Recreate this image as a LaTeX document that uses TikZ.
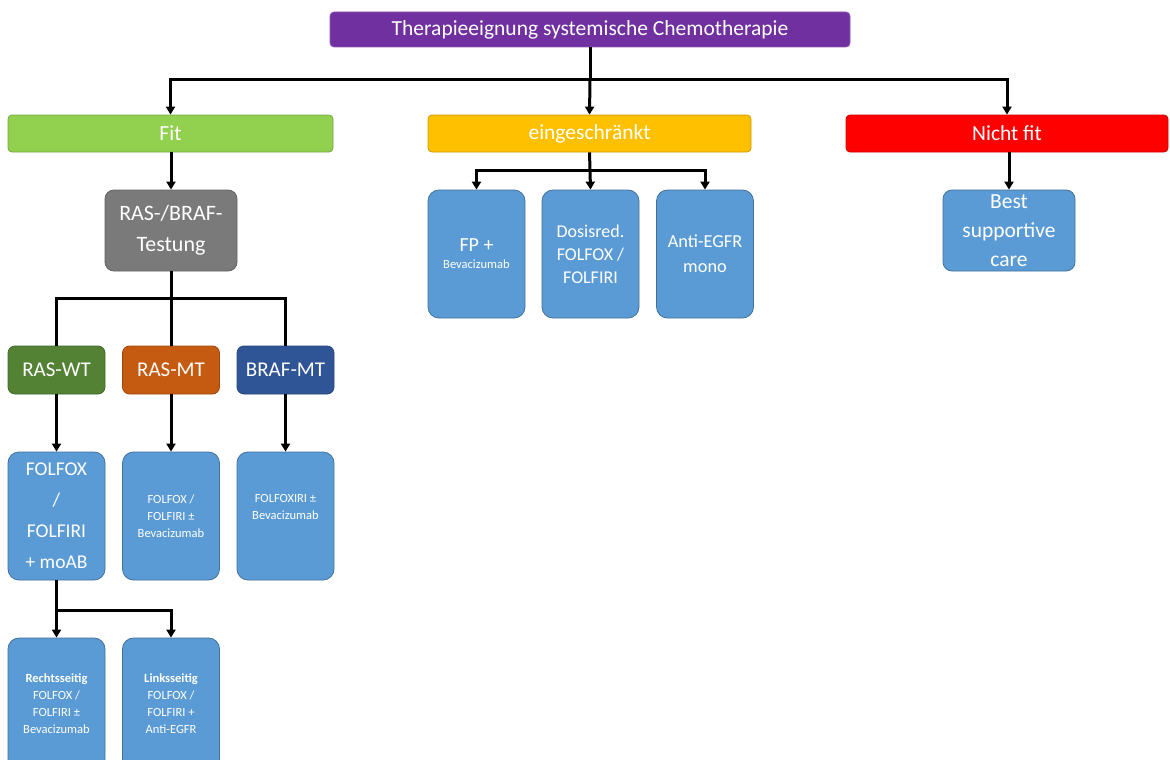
\documentclass[tikz,border=0pt]{standalone}
\usepackage{fontspec}
\setmainfont{Carlito}
\usetikzlibrary{arrows.meta}
\definecolor{cpurple}{HTML}{7030A0}
\definecolor{cgreen}{HTML}{92D050}
\definecolor{corange}{HTML}{FFC000}
\definecolor{cred}{HTML}{FF0000}
\definecolor{cgray}{HTML}{7A7A7A}
\definecolor{cdgreen}{HTML}{548235}
\definecolor{cdorange}{HTML}{C55A11}
\definecolor{cdblue}{HTML}{2F5597}
\definecolor{cblue}{HTML}{5B9BD5}
\definecolor{cborder}{HTML}{41719C}
\tikzset{
  box/.style={draw=cborder, line width=0.8pt, text=white, align=center, inner sep=1pt},
  header/.style={box, rounded corners=4pt, minimum height=37pt, font=\fontsize{21.5}{25}\selectfont},
  tall/.style={box, fill=cblue, rounded corners=11pt, minimum width=97pt, minimum height=128pt},
  mid/.style={box, rounded corners=9pt, minimum width=132pt, minimum height=81pt},
  gene/.style={box, rounded corners=7pt, minimum width=97pt, minimum height=48pt, font=\fontsize{21}{25}\selectfont},
  small/.style={font=\fontsize{12.5}{17}\selectfont},
  conn/.style={line width=3pt, black},
  arr/.style={conn, -{Triangle[length=8pt,width=9pt]}},
}
\begin{document}
\begin{tikzpicture}[x=1pt,y=-1pt]
\useasboundingbox (0,0) rectangle (1170,760);
\fill[white] (0,0) rectangle (1170,760);
\begin{scope}
\clip (0,0) rectangle (1170,760);
% title
\node[box, fill=cpurple, draw=cpurple!80!white, rounded corners=4pt, minimum width=520pt, minimum height=35pt, font=\fontsize{21.5}{25}\selectfont] (title) at (590,29.5) {Therapieeignung systemische Chemotherapie};
% row 2
\node[header, fill=cgreen, draw=cgreen!80!black, minimum width=325pt] (fit) at (170.5,133.5) {Fit};
\node[header, fill=corange, draw=corange!80!black, minimum width=323pt] (eing) at (589.5,133.5) {eingeschränkt};
\node[header, fill=cred, draw=cred!80!black, minimum width=322pt] (nicht) at (1007,133.5) {Nicht fit};
% testing
\node[mid, fill=cgray, draw=cgray!80!black, font=\fontsize{22}{31}\selectfont] (test) at (171,230.5) {RAS-/BRAF-\\Testung};
% genes
\node[gene, fill=cdgreen, draw=cdgreen!80!black] (raswt) at (56.5,370) {RAS-WT};
\node[gene, fill=cdorange, draw=cdorange!80!black] (rasmt) at (171,370) {RAS-MT};
\node[gene, fill=cdblue, draw=cdblue!80!black] (brafmt) at (285.5,370) {BRAF-MT};
% row 5
\node[tall, font=\fontsize{19.5}{31}\selectfont] (moab) at (56.5,516) {FOLFOX\\/\\FOLFIRI\\+ moAB};
\node[tall, small] (folbev) at (171,516) {FOLFOX /\\FOLFIRI ±\\Bevacizumab};
\node[tall, small] (foxiri) at (285.5,516) {FOLFOXIRI ±\\Bevacizumab\\[1pt]};
% row 6
\node[tall, small, minimum height=132pt] (rechts) at (56.5,704) {\textbf{Rechtsseitig}\\FOLFOX /\\FOLFIRI ±\\Bevacizumab};
\node[tall, small, minimum height=132pt] (links) at (171,704) {\textbf{Linksseitig}\\FOLFOX /\\FOLFIRI +\\Anti-EGFR};
% eingeschraenkt children
\node[tall] (fp) at (476.5,254) {\fontsize{20}{23}\selectfont FP +\\[5pt]\fontsize{12.5}{16}\selectfont Bevacizumab};
\node[tall, font=\fontsize{18}{23}\selectfont] (dosis) at (590.5,254) {Dosisred.\\FOLFOX /\\FOLFIRI};
\node[tall, font=\fontsize{18.3}{25}\selectfont] (anti) at (705,254) {Anti-EGFR\\mono};
% nicht fit child
\node[mid, fill=cblue, font=\fontsize{21.5}{29}\selectfont] (bsc) at (1009,230.5) {Best\\supportive\\care};
\end{scope}
% connectors
\coordinate (j1) at (590,80);
\coordinate (j2) at (171,298);
\coordinate (j3) at (590,170);
\coordinate (j4) at (56.5,610);
\draw[conn] (title.south) -- (j1);
\draw[conn, line cap=rect] (fit.north |- j1) -- (nicht.north |- j1);
\draw[arr] (fit.north |- j1) -- (fit.north);
\draw[arr] (j1) -- (eing.north);
\draw[arr] (nicht.north |- j1) -- (nicht.north);
\draw[arr] (fit.south -| test.north) -- (test.north);
\draw[conn] (test.south) -- (j2);
\draw[conn, line cap=rect] (raswt.north |- j2) -- (brafmt.north |- j2);
\draw[conn] (raswt.north |- j2) -- (raswt.north);
\draw[conn] (j2) -- (rasmt.north);
\draw[conn] (brafmt.north |- j2) -- (brafmt.north);
\draw[arr] (raswt.south) -- (moab.north);
\draw[arr] (rasmt.south) -- (folbev.north);
\draw[arr] (brafmt.south) -- (foxiri.north);
\draw[conn] (moab.south) -- (j4);
\draw[conn, line cap=rect] (j4) -- (links.north |- j4);
\draw[arr] (j4) -- (rechts.north);
\draw[arr] (links.north |- j4) -- (links.north);
\draw[conn] (eing.south) -- (j3);
\draw[conn, line cap=rect] (fp.north |- j3) -- (anti.north |- j3);
\draw[arr] (fp.north |- j3) -- (fp.north);
\draw[arr] (j3) -- (dosis.north);
\draw[arr] (anti.north |- j3) -- (anti.north);
\draw[arr] (nicht.south -| bsc.north) -- (bsc.north);
\end{tikzpicture}
\end{document}
